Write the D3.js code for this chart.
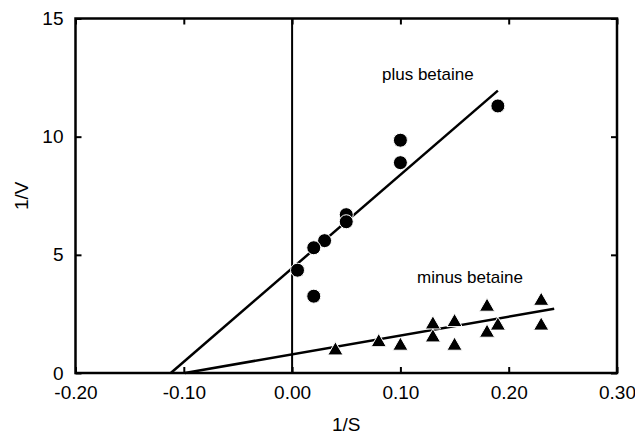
<!DOCTYPE html>
<html>
<head>
<meta charset="utf-8">
<script src="https://cdn.jsdelivr.net/npm/d3@7"></script>
<style>
  body { margin: 0; background: #fff; }
  text { font-family: "Liberation Sans", Arial, Helvetica, sans-serif; fill: #000; }
</style>
</head>
<body>
<svg width="635" height="434"></svg>
<script>
// tick values and labels
const xTicks = [-0.2, -0.1, 0, 0.1, 0.2, 0.3];
const xTickLabels = ["-0.20", "-0.10", "0.00", "0.10", "0.20", "0.30"];
const yTicks = [0, 5, 10, 15];
const yTickLabels = ["0", "5", "10", "15"];

// plus betaine (circles)
const plusS = [0.19, 0.10, 0.10, 0.05, 0.05, 0.03, 0.02, 0.005, 0.02];
const plusV = [11.3, 9.85, 8.9, 6.7, 6.4, 5.6, 5.3, 4.35, 3.25];
// fitted line end points [1/S, 1/V]
const plusFit = [[-0.112, 0], [0.19, 11.95]];

// minus betaine (triangles)
const minusS = [0.04, 0.08, 0.10, 0.13, 0.13, 0.15, 0.15, 0.18, 0.18, 0.19, 0.23, 0.23];
const minusV = [0.95, 1.3, 1.15, 2.05, 1.5, 2.15, 1.15, 2.8, 1.7, 2.0, 3.05, 2.0];
const minusFit = [[-0.099, 0], [0.242, 2.72]];

const svg = d3.select("svg");
const plotL = 75.5, plotR = 617, plotT = 18.5, plotB = 373;

const x = d3.scaleLinear().domain([-0.2, 0.3]).range([plotL, plotR]);
const y = d3.scaleLinear().domain([0, 15]).range([plotB, plotT]);

// axes with inward ticks on all four sides
svg.append("g")
  .attr("transform", `translate(0,${plotB})`)
  .call(d3.axisBottom(x).tickValues(xTicks).tickSize(-6).tickPadding(13)
    .tickFormat((d, i) => xTickLabels[i]));
svg.append("g")
  .attr("transform", `translate(0,${plotT})`)
  .call(d3.axisTop(x).tickValues(xTicks).tickSize(-6).tickFormat(""));
svg.append("g")
  .attr("transform", `translate(${plotL},0)`)
  .call(d3.axisLeft(y).tickValues(yTicks).tickSize(-6).tickPadding(12)
    .tickFormat((d, i) => yTickLabels[i]));
svg.append("g")
  .attr("transform", `translate(${plotR},0)`)
  .call(d3.axisRight(y).tickValues(yTicks).tickSize(-6).tickFormat(""));

svg.selectAll(".domain").remove();
svg.selectAll(".tick line").attr("stroke", "#000").attr("stroke-width", 2);
svg.selectAll(".tick text").style("font-size", "19px").attr("fill", "#000");

// frame
svg.append("rect")
  .attr("x", plotL).attr("y", plotT)
  .attr("width", plotR - plotL).attr("height", plotB - plotT)
  .attr("fill", "none").attr("stroke", "#000").attr("stroke-width", 2.5);

// vertical line at 1/S = 0
svg.append("line")
  .attr("x1", x(0)).attr("x2", x(0))
  .attr("y1", plotT).attr("y2", plotB)
  .attr("stroke", "#000").attr("stroke-width", 2);

// fitted lines
const line = d3.line().x(d => x(d[0])).y(d => y(d[1]));
svg.selectAll(".fit")
  .data([plusFit, minusFit])
  .join("path")
  .attr("class", "fit")
  .attr("d", line)
  .attr("fill", "none")
  .attr("stroke", "#000")
  .attr("stroke-width", 2.5);

// points
svg.selectAll(".plus")
  .data(plusS.map((s, i) => [s, plusV[i]]))
  .join("circle")
  .attr("class", "plus")
  .attr("cx", d => x(d[0]))
  .attr("cy", d => y(d[1]))
  .attr("r", 7)
  .attr("fill", "#000")
  .attr("stroke", "#fff")
  .attr("stroke-width", 1);

const tri = d3.symbol().type(d3.symbolTriangle).size(100);
svg.selectAll(".minus")
  .data(minusS.map((s, i) => [s, minusV[i]]))
  .join("path")
  .attr("class", "minus")
  .attr("d", tri)
  .attr("transform", d => `translate(${x(d[0])},${y(d[1])})`)
  .attr("fill", "#000")
  .attr("stroke", "#fff")
  .attr("stroke-width", 1);

// series labels
svg.append("text").attr("x", 382).attr("y", 80)
  .style("font-size", "17px").text("plus betaine");
svg.append("text").attr("x", 417).attr("y", 283)
  .style("font-size", "17px").text("minus betaine");

// axis titles
svg.append("text")
  .attr("x", (plotL + plotR) / 2).attr("y", 431)
  .attr("text-anchor", "middle")
  .style("font-size", "19px").text("1/S");
svg.append("text")
  .attr("transform", `translate(28,${(plotT + plotB) / 2}) rotate(-90)`)
  .attr("text-anchor", "middle")
  .style("font-size", "19px").text("1/V");
</script>
</body>
</html>
